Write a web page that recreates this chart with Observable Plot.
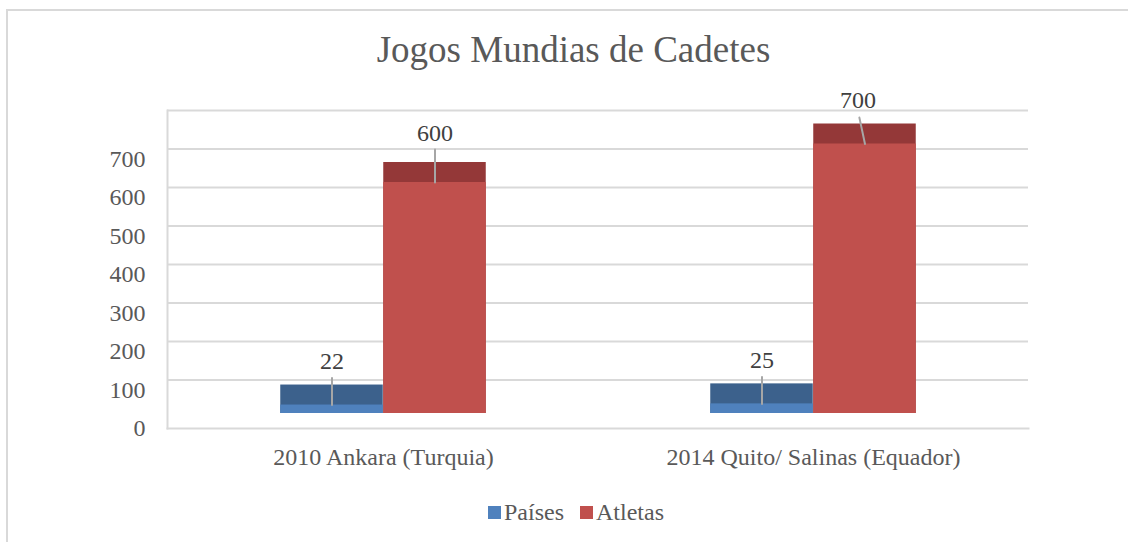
<!DOCTYPE html>
<html>
<head>
<meta charset="utf-8">
<script src="https://cdn.jsdelivr.net/npm/d3@7"></script>
<script src="https://cdn.jsdelivr.net/npm/@observablehq/plot@0.6"></script>
<style>
  html, body { margin: 0; padding: 0; background: #fff; }
  #wrap { position: relative; width: 1128px; height: 542px; overflow: hidden; font-family: "Liberation Serif", "DejaVu Serif", serif; }
  #border { position: absolute; left: 6px; top: 9px; width: 1200px; height: 600px; border-top: 2px solid #d9d9d9; border-left: 2px solid #d9d9d9; }
  #title { position: absolute; left: 0; width: 1147px; top: 31px; text-align: center; font-size: 37px; line-height: 37px; color: #595959; }
  #legend { position: absolute; left: 0; width: 1152px; top: 498px; text-align: center; font-size: 24px; line-height: 28px; color: #595959; }
  #legend .sw { display: inline-block; width: 13px; height: 13px; margin-right: 3px; vertical-align: 1px; }
  #legend .item { margin: 0 8px; }
  #chart { position: absolute; left: 0; top: 0; }
</style>
</head>
<body>
<div id="wrap">
  <div id="border"></div>
  <div id="chart"></div>
  <div id="title"></div>
  <div id="legend"></div>
</div>
<script>
const title = "Jogos Mundias de Cadetes";
const categories = ["2010 Ankara (Turquia)", "2014 Quito/ Salinas (Equador)"];
const seriesNames = ["Países", "Atletas"];
const paises = [22, 25];
const atletas = [600, 700];
const yTickLabels = [0, 100, 200, 300, 400, 500, 600, 700];
const gridValues = [100, 200, 300, 400, 500, 600, 700, 800];

const frontColors = {"Países": "#4f81bd", "Atletas": "#c0504d"};
const topColors = {"Países": "#3c618c", "Atletas": "#943838"};

const rows = [];
categories.forEach((c, i) => {
  rows.push({cat: c, series: seriesNames[0], value: paises[i]});
  rows.push({cat: c, series: seriesNames[1], value: atletas[i]});
});

const W = 1128, H = 542;
const mL = 167, mR = 100, mT = 110, mB = 114;
const bandW = (W - mL - mR) / categories.length;
const BAR = 103;
const DEPTH = 20;
const LIFT = -5;

const inset = s => s === seriesNames[0]
  ? {insetLeft: bandW / 2 - BAR, insetRight: bandW / 2}
  : {insetLeft: bandW / 2, insetRight: bandW / 2 - BAR};
const shift = s => s === seriesNames[0] ? -BAR / 2 : BAR / 2;

const marks = [
  Plot.ruleY(gridValues, {stroke: "#d9d9d9", strokeWidth: 2}),
  Plot.frame({anchor: "left", stroke: "#d9d9d9", strokeWidth: 2}),
  Plot.frame({anchor: "bottom", stroke: "#d9d9d9", strokeWidth: 2}),
  Plot.axisY({ticks: yTickLabels, tickSize: 0, tickPadding: 22, dy: 10, fontSize: 24, fill: "#595959", label: null}),
  Plot.axisX({tickSize: 0, tickPadding: 19, fontSize: 24, fill: "#595959", label: null})
];

seriesNames.forEach(s => {
  const d = rows.filter(r => r.series === s);
  marks.push(Plot.barY(d, {x: "cat", y1: 0, y2: "value", dy: LIFT, insetTop: -DEPTH, fill: topColors[s], ...inset(s)}));
  marks.push(Plot.barY(d, {x: "cat", y1: 0, y2: "value", dy: LIFT, fill: frontColors[s], ...inset(s)}));
});

const lineShape = {draw(context, l) { context.moveTo(0, 0); context.lineTo(0, -l); }};
rows.forEach(r => {
  const s = r.series;
  const tallFirst = s === seriesNames[1] && r.cat === categories[0];
  const slanted = s === seriesNames[1] && r.cat === categories[1];
  marks.push(Plot.vector([r], {
    x: "cat", y: "value", dx: shift(s), dy: LIFT,
    length: tallFirst ? 33 : 27,
    rotate: slanted ? -12 : 0,
    anchor: "start", shape: lineShape, stroke: "#a6a6a6", strokeWidth: 2
  }));
  marks.push(Plot.text([r], {
    x: "cat", y: "value", text: d => String(d.value),
    dx: shift(s) + (slanted ? -7 : 0),
    dy: LIFT - 44 - (tallFirst ? 5 : 0), fontSize: 24, fill: "#404040"
  }));
});

const chart = Plot.plot({
  width: W, height: H,
  marginLeft: mL, marginRight: mR, marginTop: mT, marginBottom: mB,
  style: {fontFamily: "'Liberation Serif', 'DejaVu Serif', serif", background: "transparent"},
  x: {type: "band", domain: categories, padding: 0},
  y: {domain: [0, 800], range: [418, 110]},
  marks
});
document.getElementById("chart").appendChild(chart);
document.getElementById("title").textContent = title;

const legend = document.getElementById("legend");
seriesNames.forEach(s => {
  const span = document.createElement("span");
  span.className = "item";
  const sw = document.createElement("span");
  sw.className = "sw";
  sw.style.background = frontColors[s];
  span.appendChild(sw);
  span.appendChild(document.createTextNode(s));
  legend.appendChild(span);
});
</script>
</body>
</html>
